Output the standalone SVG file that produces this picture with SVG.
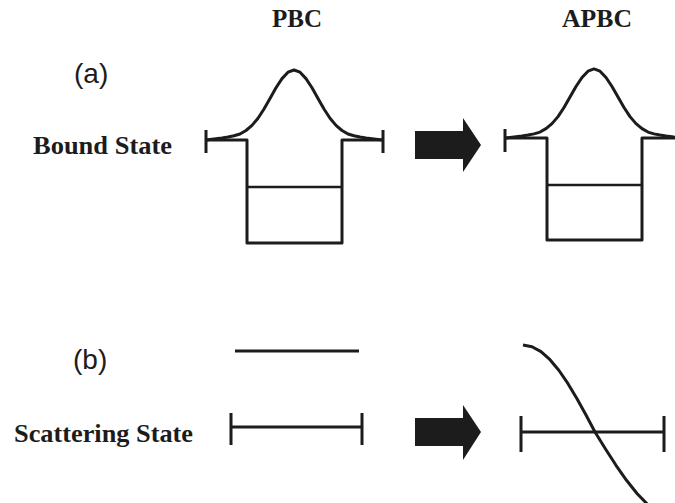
<svg xmlns="http://www.w3.org/2000/svg" xmlns:xlink="http://www.w3.org/1999/xlink" width="675" height="503" viewBox="0 0 675 503">
<style>
.ln{fill:none;stroke:#1c1c1c;stroke-width:3;stroke-linejoin:round}
.thin{fill:none;stroke:#1c1c1c;stroke-width:2.5}
.hd{font-family:"Liberation Serif","Times New Roman",serif;font-weight:bold;font-size:25px;fill:#1c1c1c}
.lb{font-family:"Liberation Sans",Arial,sans-serif;font-size:28px;fill:#1c1c1c}
.arr{fill:#1c1c1c}
</style>
<defs>
<path id="gauss" d="M-88,0 L-84,-0.5 -78,-1.2 -72,-2 -66,-3 -60,-4.2 -54,-6 -48,-9.5 -42,-14.6 -36,-21.7 -30,-31 -24,-41.6 -18,-52.2 -12,-61.4 -6,-67.8 0,-70 6,-67.8 12,-61.4 18,-52.2 24,-41.6 30,-31 36,-21.7 42,-14.6 48,-9.5 54,-6 60,-4.2 66,-3 72,-2 78,-1.2 84,-0.5 89,0"/>
</defs>
<g id="headers">
<text class="hd" x="272" y="27" textLength="50" lengthAdjust="spacingAndGlyphs">PBC</text>
<text class="hd" x="562" y="27" textLength="70" lengthAdjust="spacingAndGlyphs">APBC</text>
</g>
<g id="labels">
<text class="lb" x="74" y="83">(a)</text>
<text class="hd" x="33" y="154" textLength="139" lengthAdjust="spacingAndGlyphs">Bound State</text>
<text class="lb" x="73" y="369">(b)</text>
<text class="hd" x="14" y="442" textLength="179" lengthAdjust="spacingAndGlyphs">Scattering State</text>
</g>
<g id="pbc-bound">
<path class="ln" d="M206,140 H247 V243 H342 V140 H383"/>
<path class="thin" d="M247,187 H342"/>
<path class="ln" d="M206,130 V153 M383,130 V153"/>
<use xlink:href="#gauss" href="#gauss" class="ln" transform="translate(294,140)"/>
</g>
<g id="apbc-bound">
<path class="ln" d="M505,138 H547 V240 H642 V138 H678"/>
<path class="thin" d="M547,185 H642"/>
<path class="ln" d="M505,129 V152"/>
<use xlink:href="#gauss" href="#gauss" class="ln" transform="translate(594,138) scale(1,0.986)"/>
</g>
<g id="pbc-scatter">
<path class="ln" d="M235,351 H359"/>
<path class="ln" d="M231,427 H362 M231,413 V445 M362,413 V445"/>
</g>
<g id="apbc-scatter">
<path class="ln" d="M521,432 H664 M521,416 V452 M664,416 V452"/>
<path class="ln" d="M523,345 L532,346.7 541,351.6 550,359.7 559,370.5 568,383.7 577,398.7 586,415 595,432 605.5,449 616,465.3 626.5,480.3 637,493.5 647.5,504.3 658,512.4"/>
</g>
<g id="connectors">
<path class="arr" d="M415,131 H463 V118 L481,145 L463,172 V159 H415 Z"/>
<path class="arr" d="M415,418 H463 V405 L481,432 L463,460 V446 H415 Z"/>
</g>
</svg>
